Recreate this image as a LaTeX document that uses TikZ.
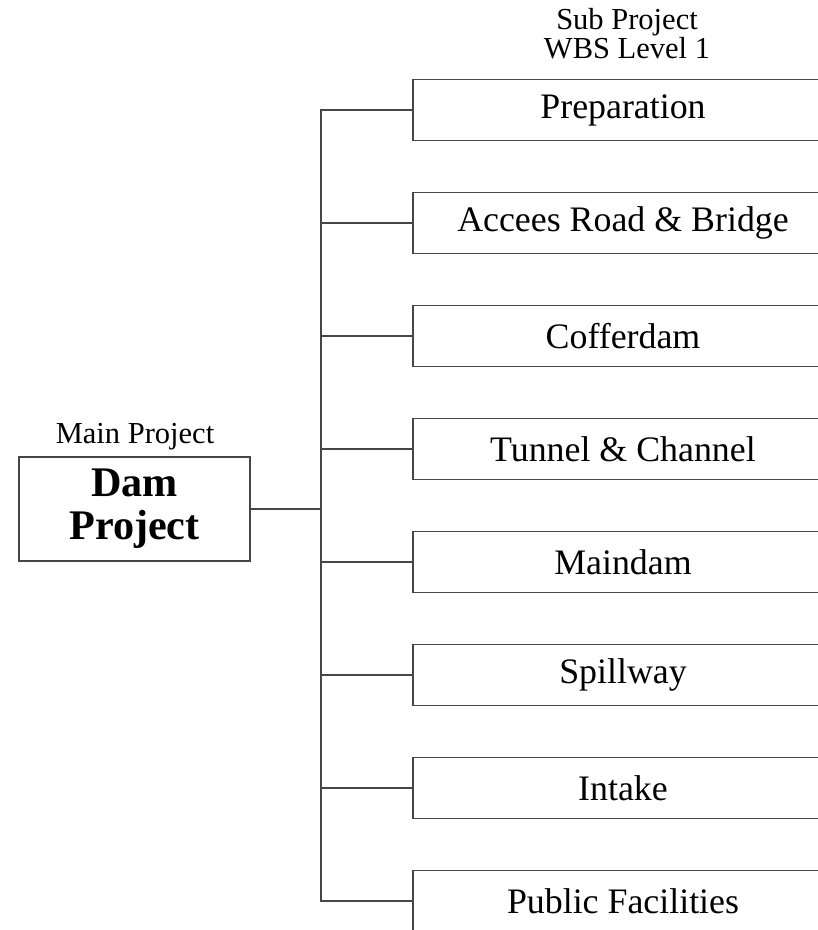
\documentclass[tikz,border=0pt]{standalone}
\usepackage{fontspec}
\setmainfont{Liberation Serif}
\usepackage{tikz}
\usetikzlibrary{positioning}
\definecolor{LineGray}{RGB}{70,70,70}

\begin{document}
\begin{tikzpicture}[
  subbox/.style={
    draw=LineGray,
    fill=white,
    minimum width=10.5cm,
    minimum height=1.525cm,
    line width=1.4pt,
    font=\fontsize{25.5}{30}\selectfont
  },
  mainbox/.style={
    draw=LineGray,
    fill=white,
    minimum width=5.775cm,
    minimum height=2.6cm,
    align=center,
    line width=1.4pt,
    font=\fontsize{30}{30.5}\selectfont\bfseries
  },
  link/.style={draw=LineGray, line width=1.4pt},
  caption/.style={font=\fontsize{21.7}{18}\selectfont, align=center, inner sep=0pt}
]
\useasboundingbox (0,0) rectangle (20.45,-23.25);
\clip (0,0) rectangle (20.45,-23.25);

\node[caption] (subcap) at (15.675,-0.85) {Sub Project\\WBS Level 1};
\node[caption] (maincap) at (3.375,-10.92) {Main Project};

\node[mainbox] (dam) at (3.3625,-12.725) {Dam\\Project};

\node[subbox] (prep) at (15.575,-2.75) {Preparation};
\node[subbox] (road) at (15.575,-5.575) {Accees Road \& Bridge};
\node[subbox] (coffer) at (15.575,-8.4) {Cofferdam};
\node[subbox] (tunnel) at (15.575,-11.225) {Tunnel \& Channel};
\node[subbox] (maindam) at (15.575,-14.05) {Maindam};
\node[subbox] (spill) at (15.575,-16.875) {Spillway};
\node[subbox] (intake) at (15.575,-19.7) {Intake};
\node[subbox] (public) at (15.575,-22.525) {Public Facilities};

\coordinate (trunk) at (8.025,-12.725);

\draw[link] (dam.east) -- (trunk);
\draw[link] (prep.west) -| (trunk) |- (public.west);
\draw[link] (road.west) -- (road.west -| trunk);
\draw[link] (coffer.west) -- (coffer.west -| trunk);
\draw[link] (tunnel.west) -- (tunnel.west -| trunk);
\draw[link] (maindam.west) -- (maindam.west -| trunk);
\draw[link] (spill.west) -- (spill.west -| trunk);
\draw[link] (intake.west) -- (intake.west -| trunk);
\end{tikzpicture}
\end{document}
